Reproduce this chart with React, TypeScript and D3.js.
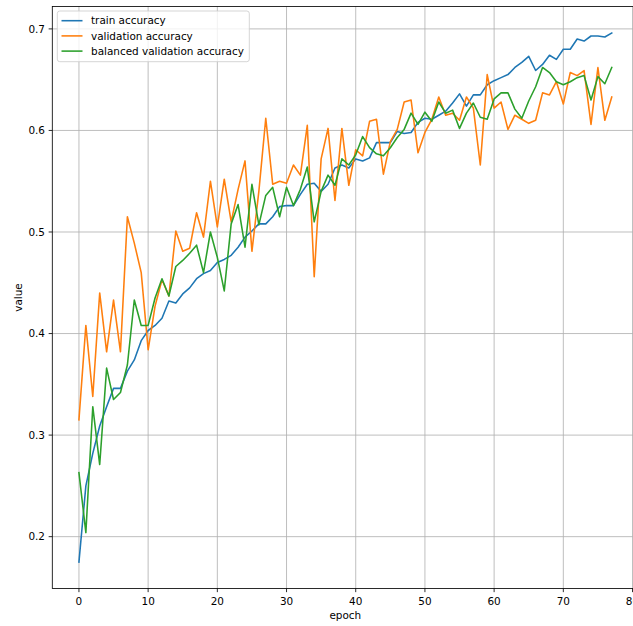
import React from "react";
import * as d3 from "d3";

const epochs: number[] = Array.from({ length: 78 }, (_, i) => i);

const trainAcc: number[] = [
  0.175, 0.25, 0.282, 0.309, 0.328, 0.346, 0.346, 0.363, 0.374, 0.393,
  0.403, 0.408, 0.415, 0.432, 0.43, 0.439, 0.445, 0.454, 0.459, 0.462,
  0.47, 0.473, 0.477, 0.485, 0.495, 0.501, 0.508, 0.508, 0.515, 0.525,
  0.526, 0.526, 0.537, 0.547, 0.548, 0.54, 0.547, 0.563, 0.566, 0.563,
  0.572, 0.57, 0.573, 0.588, 0.588, 0.588, 0.599, 0.597, 0.598, 0.608,
  0.612, 0.611, 0.615, 0.619, 0.627, 0.636, 0.624, 0.635, 0.635, 0.645,
  0.649, 0.652, 0.655, 0.662, 0.667, 0.673, 0.659, 0.665, 0.674, 0.67,
  0.68, 0.68, 0.69, 0.688, 0.693, 0.693, 0.692, 0.696,
];

const valAcc: number[] = [
  0.315, 0.408, 0.338, 0.44, 0.382, 0.433, 0.382, 0.515, 0.489, 0.46,
  0.384, 0.427, 0.453, 0.437, 0.501, 0.481, 0.484, 0.519, 0.495, 0.55,
  0.505, 0.552, 0.51, 0.542, 0.57, 0.481, 0.54, 0.612, 0.547, 0.55,
  0.548, 0.566, 0.556, 0.605, 0.456, 0.572, 0.602, 0.531, 0.602, 0.546,
  0.581, 0.575, 0.609, 0.611, 0.557, 0.589, 0.601, 0.628, 0.63, 0.578,
  0.598, 0.611, 0.633, 0.615, 0.617, 0.61, 0.633, 0.622, 0.566, 0.655,
  0.622, 0.628, 0.601, 0.615, 0.611, 0.607, 0.61, 0.637, 0.635, 0.648,
  0.626, 0.657, 0.654, 0.659, 0.606, 0.662, 0.61, 0.633,
];

const balValAcc: number[] = [
  0.263, 0.204, 0.328, 0.271, 0.366, 0.335, 0.342, 0.369, 0.433, 0.408,
  0.408, 0.435, 0.454, 0.437, 0.466, 0.472, 0.479, 0.487, 0.46, 0.5,
  0.475, 0.442, 0.508, 0.527, 0.485, 0.547, 0.507, 0.536, 0.544, 0.515,
  0.544, 0.526, 0.542, 0.564, 0.51, 0.54, 0.556, 0.546, 0.572, 0.566,
  0.576, 0.594, 0.583, 0.577, 0.575, 0.583, 0.593, 0.601, 0.617, 0.606,
  0.618, 0.609, 0.628, 0.617, 0.62, 0.602, 0.617, 0.627, 0.613, 0.611,
  0.631, 0.637, 0.637, 0.621, 0.612, 0.629, 0.643, 0.662, 0.657, 0.648,
  0.645, 0.648, 0.652, 0.654, 0.63, 0.653, 0.646, 0.662,
];

const seriesNames: string[] = [
  "train accuracy",
  "validation accuracy",
  "balanced validation accuracy",
];
const seriesColors: string[] = ["#1f77b4", "#ff7f0e", "#2ca02c"];

const xTicks: number[] = [0, 10, 20, 30, 40, 50, 60, 70, 80];
const yTicks: number[] = [0.2, 0.3, 0.4, 0.5, 0.6, 0.7];

const W = 633;
const H = 626;
const left = 52.3;
const right = 638.4;
const top = 6.5;
const bottom = 588.5;
const FONT = "'DejaVu Sans', sans-serif";
const FS = 10.45;

export default function App() {
  const allY = [...trainAcc, ...valAcc, ...balValAcc];
  const [ymin, ymax] = d3.extent(allY) as [number, number];
  const ypad = (ymax - ymin) * 0.05;
  const [xmin, xmax] = d3.extent(epochs) as [number, number];
  const xpad = (xmax - xmin) * 0.05;

  const x = d3.scaleLinear().domain([xmin - xpad, xmax + xpad]).range([left, right]);
  const y = d3.scaleLinear().domain([ymin - ypad, ymax + ypad]).range([bottom, top]);

  const line = d3
    .line<[number, number]>()
    .x((d) => x(d[0]))
    .y((d) => y(d[1]));

  const all = [trainAcc, valAcc, balValAcc];
  const tickLen = 3.65;

  return (
    <svg
      width={W}
      height={H}
      style={{ position: "fixed", left: 0, top: 0, background: "#fff" }}
      fontFamily={FONT}
    >
      <rect x={0} y={0} width={W} height={H} fill="#fff" />
      <defs>
        <clipPath id="plotclip">
          <rect x={left} y={top} width={right - left} height={bottom - top} />
        </clipPath>
      </defs>
      {xTicks.map((t) => (
        <line
          key={"gx" + t}
          x1={x(t)}
          x2={x(t)}
          y1={top}
          y2={bottom}
          stroke="#b0b0b0"
          strokeWidth={0.83}
        />
      ))}
      {yTicks.map((t) => (
        <line
          key={"gy" + t}
          x1={left}
          x2={right}
          y1={y(t)}
          y2={y(t)}
          stroke="#b0b0b0"
          strokeWidth={0.83}
        />
      ))}
      <g clipPath="url(#plotclip)">
        {all.map((s, i) => (
          <path
            key={"s" + i}
            d={line(epochs.map((e, j) => [e, s[j]] as [number, number])) || ""}
            fill="none"
            stroke={seriesColors[i]}
            strokeWidth={1.57}
            strokeLinejoin="round"
            strokeLinecap="square"
          />
        ))}
      </g>
      <rect
        x={left}
        y={top}
        width={right - left}
        height={bottom - top}
        fill="none"
        stroke="#000"
        strokeWidth={0.83}
      />
      {xTicks.map((t) => (
        <g key={"xt" + t}>
          <line x1={x(t)} x2={x(t)} y1={bottom} y2={bottom + tickLen} stroke="#000" strokeWidth={0.83} />
          <text
            x={x(t)}
            y={bottom + tickLen + 3.65 + 9.2}
            textAnchor="middle"
            fontSize={FS}
            fill="#000"
          >
            {t}
          </text>
        </g>
      ))}
      {yTicks.map((t) => (
        <g key={"yt" + t}>
          <line x1={left - tickLen} x2={left} y1={y(t)} y2={y(t)} stroke="#000" strokeWidth={0.83} />
          <text
            x={left - tickLen - 3.65}
            y={y(t)}
            dy="0.36em"
            textAnchor="end"
            fontSize={FS}
            fill="#000"
          >
            {d3.format(".1f")(t)}
          </text>
        </g>
      ))}
      <text x={(left + right) / 2} y={619} textAnchor="middle" fontSize={FS} fill="#000">
        epoch
      </text>
      <text
        transform={`translate(21.5, ${(top + bottom) / 2}) rotate(-90)`}
        textAnchor="middle"
        fontSize={FS}
        fill="#000"
      >
        value
      </text>
      <rect
        x={57.3}
        y={11}
        width={192}
        height={50.7}
        rx={2.5}
        ry={2.5}
        fill="#fff"
        fillOpacity={0.8}
        stroke="#cccccc"
        strokeWidth={0.83}
      />
      {seriesNames.map((n, i) => (
        <g key={"lg" + i}>
          <line
            x1={61.5}
            x2={82.5}
            y1={20.7 + i * 15.2}
            y2={20.7 + i * 15.2}
            stroke={seriesColors[i]}
            strokeWidth={1.57}
          />
          <text x={91} y={20.7 + i * 15.2} dy="0.36em" fontSize={FS} fill="#000">
            {n}
          </text>
        </g>
      ))}
    </svg>
  );
}
